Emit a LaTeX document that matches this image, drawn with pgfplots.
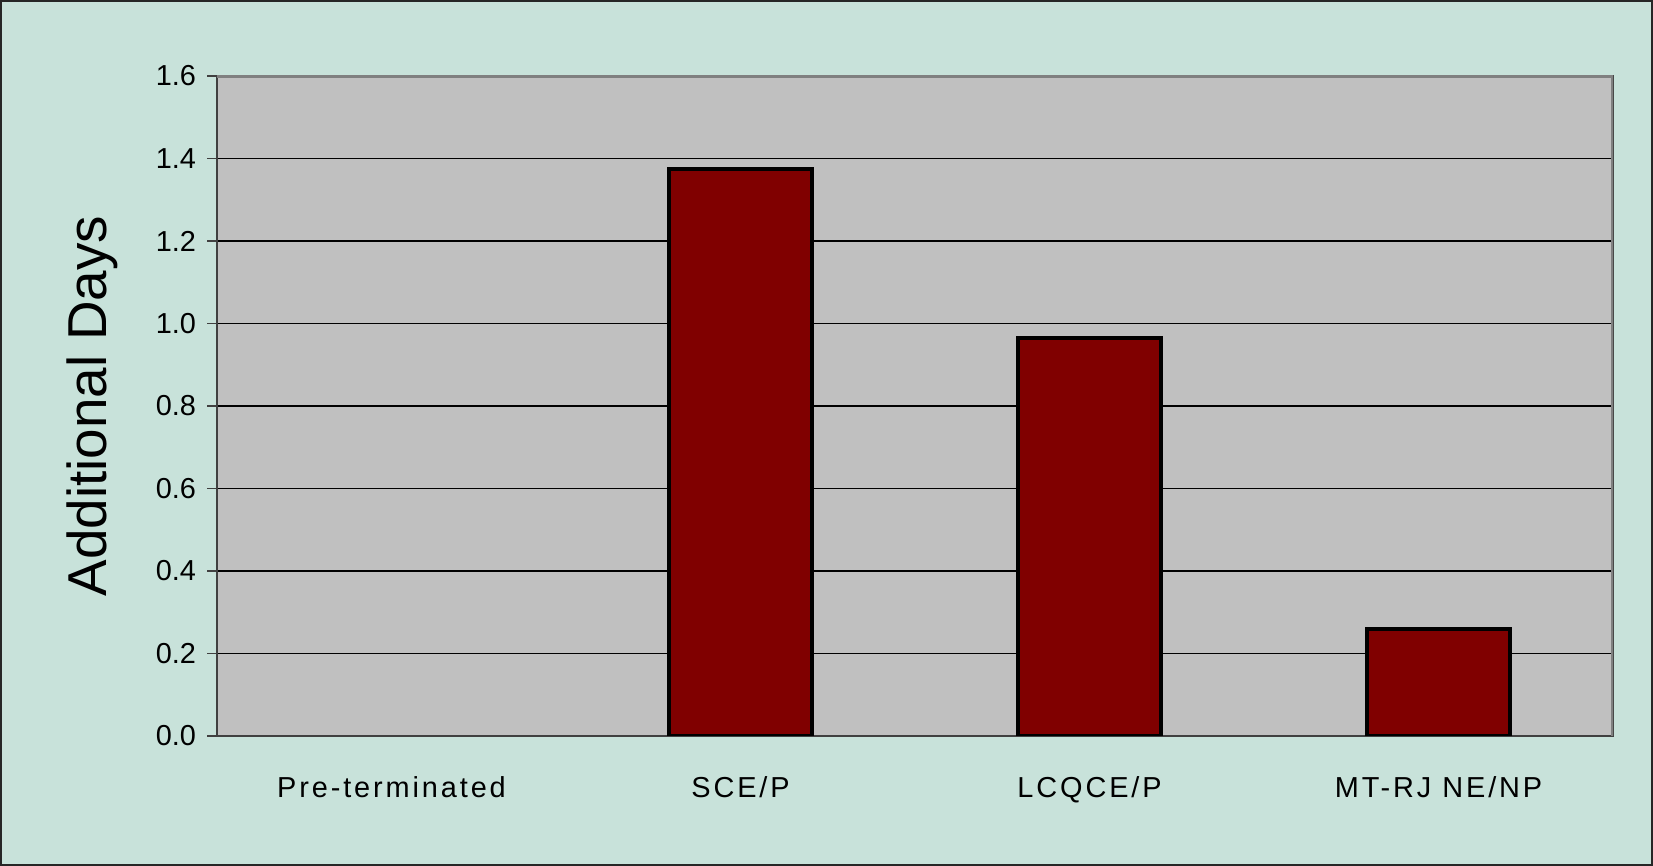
\documentclass[border=0pt]{standalone}
\usepackage{fontspec}
\setmainfont{Liberation Sans}
\usepackage{pgfplots}
\pgfplotsset{compat=1.18}
\definecolor{bgc}{RGB}{200,226,218}
\definecolor{plotbg}{RGB}{192,192,192}
\definecolor{barc}{RGB}{128,0,0}
\begin{document}
\begin{tikzpicture}[x=1bp,y=1bp]
\path[use as bounding box] (0,0) rectangle (826.5,433);
\draw[fill=bgc, draw=black!85, line width=1bp] (0.5,0.5) rectangle (826,432.5);
\begin{axis}[
  at={(108.5bp,65bp)}, anchor=south west,
  scale only axis, width=698bp, height=330bp,
  xmin=0.5, xmax=4.5, ymin=0, ymax=1.6,
  axis background/.style={fill=plotbg},
  axis line style={draw=black!75, line width=0.6bp},
  tick pos=left, tick align=outside,
  major tick length=5bp, minor tick length=5bp,
  tick style={draw=black!75, line width=0.6bp},
  ytick={0,0.2,0.4,0.6,0.8,1.0,1.2,1.4,1.6},
  ymajorgrids, major grid style={draw=black, line width=0.7bp},
  yticklabel style={/pgf/number format/fixed, /pgf/number format/fixed zerofill, /pgf/number format/precision=1, /pgf/number format/assume math mode=true, font=\fontsize{14.5}{16}\selectfont, xshift=-2bp},
  xtick={1,2,3,4},
  xticklabels={Pre-terminated, SCE/P, LCQCE/P, MT-RJ NE/NP},
  xtick style={draw=none},
  minor xtick={0.5,1.5,2.5,3.5,4.5},
  minor tick style={draw=black!75, line width=0.6bp},
  xticklabel style={font=\fontsize{14.5}{16}\selectfont\addfontfeatures{LetterSpace=10}, yshift=-12bp},
  ylabel={Additional Days},
  ylabel style={font=\fontsize{27.5}{30}\selectfont, at={(axis description cs:-0.0895,0.5)}, anchor=center},
  ybar, bar width=71.5bp,
]
\addplot[fill=barc, draw=black, line width=2bp] coordinates {(2,1.375) (3,0.965) (4,0.26)};
\draw[draw=gray, line width=2bp] (rel axis cs:0,1) -- (rel axis cs:1,1) -- (rel axis cs:1,0);
\end{axis}
\end{tikzpicture}
\end{document}
